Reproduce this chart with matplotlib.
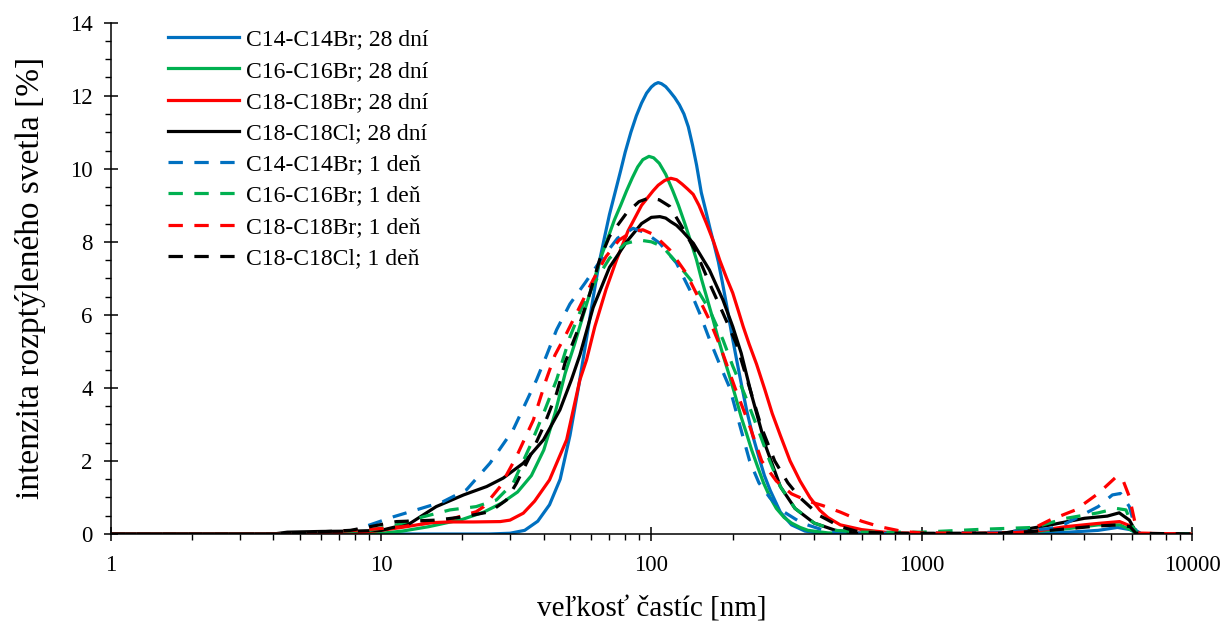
import matplotlib
matplotlib.use("Agg")
import matplotlib.pyplot as plt
from matplotlib.ticker import LogLocator, MultipleLocator, NullFormatter, FixedLocator, FixedFormatter

plt.rcParams['font.family'] = ['Liberation Serif', 'DejaVu Serif']

# ---------------- data ----------------
labels = ["C14-C14Br; 28 dní", "C16-C16Br; 28 dní", "C18-C18Br; 28 dní", "C18-C18Cl; 28 dní",
          "C14-C14Br; 1 deň", "C16-C16Br; 1 deň", "C18-C18Br; 1 deň", "C18-C18Cl; 1 deň"]
colors = ["#0070C0", "#00B050", "#FF0000", "#000000",
          "#0070C0", "#00B050", "#FF0000", "#000000"]

x_c14_28 = [1, 25, 30, 34, 38, 42, 46, 50, 54, 58, 61, 64, 67, 70, 73.3, 77, 80, 84, 88, 92, 96, 100,
            103, 106, 109, 113, 117, 122, 127, 132, 137, 142, 147, 153, 159, 165, 171, 177, 183, 190,
            198, 207, 216, 225, 237, 250, 262, 275, 300, 330, 370, 420, 500, 2500, 3500, 4500, 5300,
            5900, 6300, 10000]
y_c14_28 = [0, 0, 0.02, 0.1, 0.35, 0.8, 1.5, 2.7, 4.1, 5.5, 6.5, 7.4, 8.1, 8.75, 9.33, 9.95, 10.45,
            11.0, 11.45, 11.8, 12.07, 12.24, 12.32, 12.36, 12.33, 12.25, 12.12, 11.95, 11.75, 11.5,
            11.15, 10.65, 10.1, 9.35, 8.85, 8.35, 7.9, 7.45, 6.9, 6.25, 5.5, 4.75, 4.05, 3.4, 2.7,
            2.1, 1.6, 1.2, 0.6, 0.25, 0.08, 0.02, 0, 0, 0.05, 0.1, 0.18, 0.12, 0, 0]

x_c16_28 = [1, 8, 10, 12, 15, 20, 24, 28, 32, 36, 40, 44, 48, 52, 56, 61, 66, 73, 77, 81, 85, 89, 93,
            98, 102, 107, 113, 120, 126, 133, 140, 147, 153, 160, 168, 176, 185, 195, 205, 215, 225,
            235, 247, 260, 275, 290, 310, 330, 355, 380, 450, 600, 1500, 2500, 3500, 4500, 5400, 6000,
            6300, 10000]
y_c16_28 = [0, 0, 0.02, 0.08, 0.2, 0.4, 0.6, 0.85, 1.15, 1.6, 2.3, 3.3, 4.4, 5.2, 6.0, 6.9, 7.7, 8.6,
            9.0, 9.4, 9.75, 10.05, 10.25, 10.34, 10.3, 10.15, 9.85, 9.4, 9.0, 8.5, 8.0, 7.5, 7.0, 6.5,
            5.95, 5.4, 4.85, 4.3, 3.75, 3.2, 2.75, 2.3, 1.85, 1.4, 1.0, 0.7, 0.45, 0.3, 0.18, 0.1,
            0.03, 0, 0, 0.05, 0.15, 0.25, 0.25, 0.1, 0, 0]

x_c18br_28 = [1, 5, 8, 10, 12.4, 15.2, 18, 22, 27.6, 30, 33.6, 37, 42, 45, 48.6, 54.4, 57.6, 61.8, 68,
              74.3, 82, 92, 101.6, 106, 112, 118, 124, 130, 136, 142.8, 150, 160, 170, 179, 190, 200,
              210, 218.6, 230, 245, 263, 280, 300, 326, 355, 386, 420, 450, 500, 600, 750, 1200, 2500,
              3400, 4500, 5400, 6000, 6300, 10000]
y_c18br_28 = [0, 0, 0.03, 0.1, 0.2, 0.31, 0.33, 0.33, 0.34, 0.38, 0.57, 0.9, 1.48, 2.0, 2.58, 4.22,
              4.77, 5.68, 6.7, 7.5, 8.3, 9.0, 9.4, 9.55, 9.68, 9.74, 9.7, 9.58, 9.45, 9.3, 9.0, 8.5,
              8.0, 7.5, 7.0, 6.6, 6.1, 5.68, 5.2, 4.65, 3.95, 3.3, 2.7, 2.0, 1.45, 1.0, 0.65, 0.45,
              0.25, 0.12, 0.04, 0, 0.05, 0.2, 0.29, 0.34, 0.2, 0.02, 0]

x_c18cl_28 = [1, 4, 4.5, 6, 8, 10, 12.8, 16, 20.2, 24.6, 28.3, 33.6, 39.9, 45.9, 50.6, 54.4, 60.9, 70,
              81, 92, 100, 107.5, 113, 118, 124, 130, 143, 164, 184, 200, 215, 235, 265, 300, 340,
              400, 480, 560, 700, 2000, 3000, 4000, 4860, 5380, 5865, 6200, 6500, 10000]
y_c18cl_28 = [0, 0, 0.05, 0.07, 0.08, 0.1, 0.29, 0.75, 1.07, 1.3, 1.53, 1.94, 2.58, 3.4, 4.22, 4.9,
              6.2, 7.3, 8.0, 8.5, 8.67, 8.69, 8.65, 8.55, 8.45, 8.3, 7.96, 7.23, 6.41, 5.68, 4.95, 3.8,
              2.4, 1.3, 0.7, 0.3, 0.1, 0.03, 0, 0.02, 0.25, 0.43, 0.49, 0.58, 0.38, 0.06, 0, 0]

x_c14_1 = [1, 5, 6, 7.7, 9.1, 11.1, 13.5, 16.9, 20.7, 25.3, 30.8, 37.6, 40.8, 44.6, 50, 56.8, 65, 75,
           85.6, 95, 107.5, 123.8, 138.8, 150.8, 164.3, 180, 195, 212, 231, 250, 274, 310, 360, 457,
           600, 1000, 2000, 3000, 3420, 4500, 5075, 5440, 5865, 6200, 6500, 10000]
y_c14_1 = [0, 0, 0.02, 0.06, 0.25, 0.47, 0.66, 0.88, 1.21, 1.94, 2.85, 4.22, 4.86, 5.59, 6.3, 6.87,
           7.5, 8.1, 8.37, 8.25, 7.96, 7.42, 6.68, 6.05, 5.32, 4.6, 4.0, 3.0, 2.0, 1.4, 1.0, 0.6, 0.3,
           0.05, 0.02, 0.02, 0.05, 0.15, 0.29, 0.75, 1.07, 1.11, 0.75, 0.1, 0, 0]

x_c16_1 = [1, 4.5, 6, 9.1, 11.4, 14.3, 18, 22.5, 26.7, 30.8, 35.5, 39.9, 44.6, 50, 56, 63, 70, 80, 90,
           100, 110, 125, 143, 164, 184, 200, 222, 250, 274, 300, 340, 400, 480, 600, 800, 1000, 1680,
           2600, 3420, 4500, 5254, 5700, 6030, 6300, 10000]
y_c16_1 = [0, 0, 0.03, 0.1, 0.25, 0.47, 0.66, 0.75, 0.93, 1.39, 2.39, 3.3, 4.22, 5.4, 6.3, 7.0, 7.55,
           7.95, 8.05, 8.0, 7.87, 7.4, 6.87, 6.14, 5.32, 4.6, 3.8, 2.8, 2.0, 1.3, 0.7, 0.3, 0.1, 0.05,
           0.05, 0.05, 0.13, 0.18, 0.43, 0.58, 0.7, 0.66, 0.2, 0, 0]

x_c18br_1 = [1, 4.5, 6, 8, 10, 12, 15, 18, 20, 22.5, 24, 27.6, 31.7, 36.6, 40.8, 44, 48.6, 54.4, 60.9,
             68, 76, 85, 93, 102, 117, 134.6, 150.8, 164, 180, 204, 230, 256, 290, 330, 380, 430, 500,
             600, 700, 850, 1000, 2000, 2441, 2977, 3710, 4500, 5254, 5550, 5865, 6200, 6370, 10000]
y_c18br_1 = [0, 0, 0.03, 0.1, 0.15, 0.2, 0.3, 0.4, 0.5, 0.61, 0.75, 1.3, 2.12, 3.12, 4.22, 4.9, 5.5,
             6.23, 6.96, 7.6, 8.05, 8.28, 8.33, 8.2, 7.78, 7.14, 6.41, 5.86, 5.13, 4.0, 3.0, 2.0, 1.45,
             1.1, 0.9, 0.78, 0.6, 0.35, 0.2, 0.07, 0.03, 0.02, 0.06, 0.38, 0.66, 1.11, 1.57, 1.48,
             1.02, 0.2, 0.02, 0]

x_c18cl_1 = [1, 4.5, 5, 7.7, 9.1, 11.4, 16, 20.2, 25.3, 29.1, 31.7, 35.5, 39.9, 44.6, 48, 52.9, 59.3,
             64.3, 70, 81, 90, 98, 107, 117, 130, 147, 164, 184, 206, 231, 256, 286, 320, 354, 420,
             500, 590, 800, 2000, 2977, 4500, 5380, 5900, 6200, 10000]
y_c18cl_1 = [0, 0, 0.03, 0.1, 0.2, 0.34, 0.38, 0.47, 0.61, 0.93, 1.39, 2.12, 2.94, 3.85, 4.7, 5.5,
             6.6, 7.5, 8.15, 8.79, 9.1, 9.2, 9.15, 8.97, 8.4, 7.69, 6.87, 6.05, 5.22, 4.0, 2.9, 2.0,
             1.4, 1.0, 0.5, 0.2, 0.05, 0.02, 0.02, 0.1, 0.22, 0.25, 0.2, 0.02, 0]

series_x = [x_c14_28, x_c16_28, x_c18br_28, x_c18cl_28, x_c14_1, x_c16_1, x_c18br_1, x_c18cl_1]
series_y = [y_c14_28, y_c16_28, y_c18br_28, y_c18cl_28, y_c14_1, y_c16_1, y_c18br_1, y_c18cl_1]
dashed = [False, False, False, False, True, True, True, True]

x_ticks = [1, 10, 100, 1000, 10000]
x_tick_labels = ["1", "10", "100", "1000", "10000"]
y_ticks = [0, 2, 4, 6, 8, 10, 12, 14]

# ---------------- figure ----------------
fig = plt.figure(figsize=(12.23, 6.25), dpi=100)
ax = fig.add_axes([110.7 / 1223, 1 - 534 / 625, (1192 - 110.7) / 1223, (534 - 22.7) / 625])

for xs, ys, lab, col, d in zip(series_x, series_y, labels, colors, dashed):
    if d:
        ax.plot(xs, ys, color=col, lw=2.3, ls=(0, (4.5, 3.6)), label=lab, solid_joinstyle='round')
    else:
        ax.plot(xs, ys, color=col, lw=2.3, ls='-', label=lab, solid_joinstyle='round')

ax.set_xscale('log')
ax.set_xlim(1, 10000)
ax.set_ylim(0, 14)

ax.xaxis.set_major_locator(FixedLocator(x_ticks))
ax.xaxis.set_major_formatter(FixedFormatter(x_tick_labels))
ax.xaxis.set_minor_locator(LogLocator(base=10, subs=range(2, 10)))
ax.xaxis.set_minor_formatter(NullFormatter())
ax.yaxis.set_major_locator(FixedLocator(y_ticks))
ax.yaxis.set_minor_locator(MultipleLocator(0.5))

for s in ['top', 'right']:
    ax.spines[s].set_visible(False)
for s in ['left', 'bottom']:
    ax.spines[s].set_linewidth(1.1)
    ax.spines[s].set_color('black')

ax.tick_params(axis='both', which='major', direction='inout', length=10, width=1.1,
               labelsize=16.5, colors='black')
ax.tick_params(axis='both', which='minor', direction='out', length=4.5, width=1.0)
ax.tick_params(axis='x', which='major', pad=10)
ax.tick_params(axis='y', which='major', pad=8)

ax.set_xlabel("veľkosť častíc [nm]", fontsize=21, labelpad=15)
ax.set_ylabel("intenzita rozptýleného svetla [%]", fontsize=24, labelpad=17)

leg = ax.legend(loc='upper left', bbox_to_anchor=(168 / 1223, 1 - 29 / 625),
                bbox_transform=fig.transFigure, frameon=False, fontsize=17,
                handlelength=3.0, handletextpad=0.3, labelspacing=0.41, borderpad=0,
                borderaxespad=0)

fig.savefig("out.png", dpi=100)
